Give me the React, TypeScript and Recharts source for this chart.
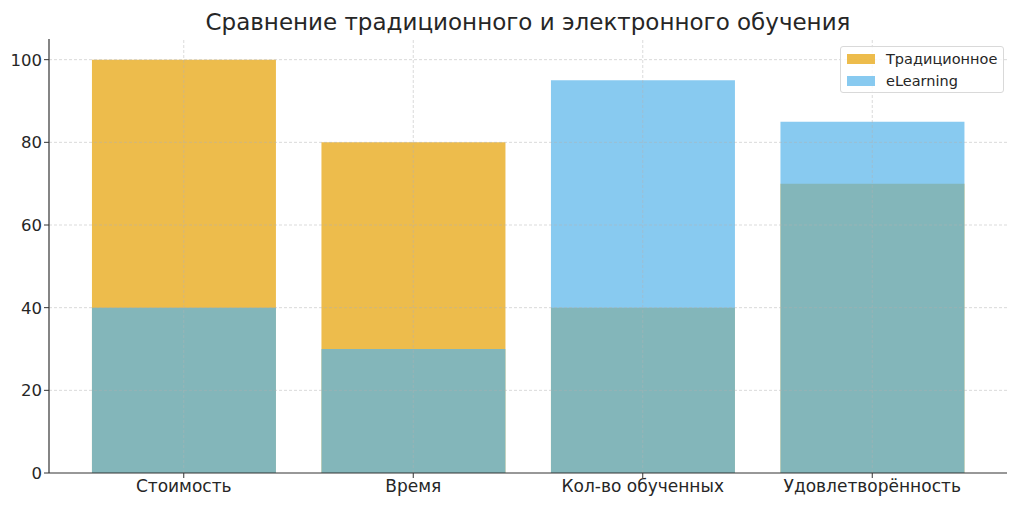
import React from 'react';
import { BarChart, Bar, XAxis, YAxis, ReferenceLine, Legend } from 'recharts';

const categories = ['Стоимость', 'Время', 'Кол-во обученных', 'Удовлетворённость'];
const traditional = [100, 80, 40, 70];
const elearning = [40, 30, 95, 85];
const yTicks = [0, 20, 40, 60, 80, 100];
const seriesNames = ['Традиционное', 'eLearning'];
const seriesColors = ['#E69F00', '#56B4E9'];

const data = categories.map((c, i) => ({ name: c, trad: traditional[i], el: elearning[i] }));

const FONT = '"DejaVu Sans", sans-serif';
const TEXT = '#262626';
const SPINE = '#333333';
const GRID = '#b0b0b0';

const LegendBox = () => (
  <div
    style={{
      border: '1px solid #d9d9d9',
      borderRadius: 3,
      background: 'rgba(255,255,255,0.8)',
      padding: '1px 6px 0px 6px',
      fontFamily: FONT,
      fontSize: 14.5,
      color: TEXT,
      display: 'inline-block',
      textAlign: 'left',
      whiteSpace: 'nowrap',
    }}
  >
    {seriesNames.map((n, i) => (
      <div key={n} style={{ display: 'flex', alignItems: 'center', justifyContent: 'flex-start', height: 22 }}>
        <span
          style={{
            display: 'inline-block',
            flexShrink: 0,
            width: 28,
            height: 10,
            background: seriesColors[i],
            opacity: 0.7,
            marginRight: 11,
          }}
        />
        <span>{n}</span>
      </div>
    ))}
  </div>
);

export default function App() {
  return (
    <div style={{ position: 'absolute', left: 0, top: 0, width: 1024, height: 511, background: '#fff' }}>
      <div
        style={{
          position: 'absolute',
          left: 49,
          width: 958,
          top: 8,
          textAlign: 'center',
          fontFamily: FONT,
          fontSize: 23,
          color: TEXT,
          lineHeight: '28px',
        }}
      >
        Сравнение традиционного и электронного обучения
      </div>
      <BarChart
        width={1024}
        height={511}
        data={data}
        margin={{ top: 39, right: 17, bottom: 0, left: 0 }}
        barCategoryGap="10%"
      >
        <XAxis
          xAxisId="a"
          dataKey="name"
          padding={{ left: 20, right: 20 }}
          height={38}
          tickSize={5}
          tickMargin={2}
          stroke={SPINE}
          tick={{ fill: TEXT, fontFamily: FONT, fontSize: 17 }}
          axisLine={{ stroke: SPINE, strokeWidth: 1.2 }}
          tickLine={{ stroke: SPINE }}
          interval={0}
        />
        <XAxis xAxisId="b" dataKey="name" padding={{ left: 20, right: 20 }} hide />
        <YAxis
          domain={[0, 105]}
          ticks={yTicks}
          width={49}
          tickSize={5}
          tickMargin={2}
          stroke={SPINE}
          tick={{ fill: TEXT, fontFamily: FONT, fontSize: 16.5 }}
          axisLine={{ stroke: SPINE, strokeWidth: 1.2 }}
          tickLine={{ stroke: SPINE }}
          allowDataOverflow
        />
        <Bar xAxisId="a" dataKey="trad" name={seriesNames[0]} fill={seriesColors[0]} fillOpacity={0.7} isAnimationActive={false} />
        <Bar xAxisId="b" dataKey="el" name={seriesNames[1]} fill={seriesColors[1]} fillOpacity={0.7} isAnimationActive={false} />
        {yTicks.filter((t) => t > 0).map((t) => (
          <ReferenceLine
            key={'y' + t}
            xAxisId="a"
            y={t}
            stroke={GRID}
            strokeOpacity={0.6}
            strokeDasharray="3 2"
            strokeWidth={0.8}
          />
        ))}
        {categories.map((c) => (
          <ReferenceLine
            key={'x' + c}
            xAxisId="a"
            x={c}
            stroke={GRID}
            strokeOpacity={0.6}
            strokeDasharray="3 2"
            strokeWidth={0.8}
          />
        ))}
        <Legend
          layout="horizontal"
          verticalAlign="middle"
          align="center"
          content={() => <LegendBox />}
          wrapperStyle={{ position: 'absolute', left: 840, top: 46, width: 'auto', textAlign: 'left' }}
        />
      </BarChart>
    </div>
  );
}
